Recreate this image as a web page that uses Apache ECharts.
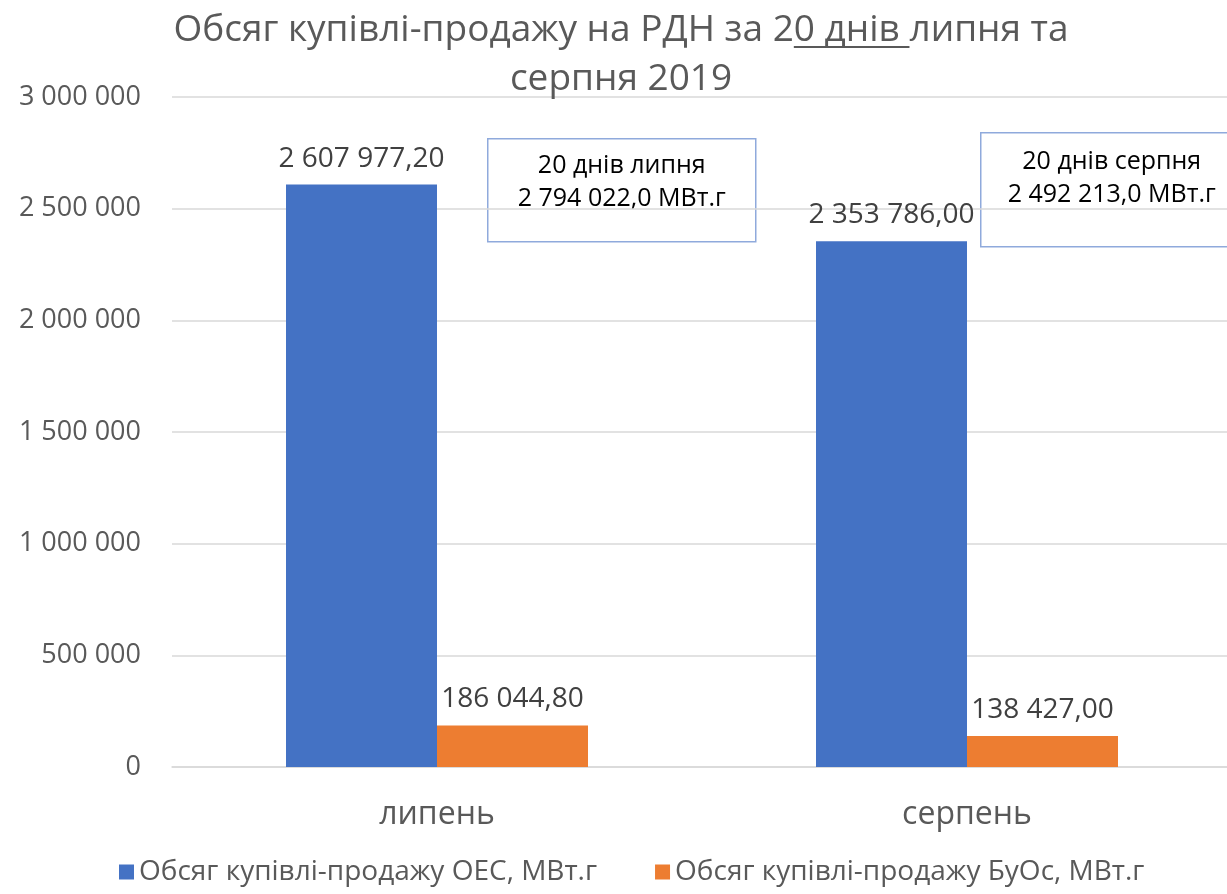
<!DOCTYPE html>
<html>
<head>
<meta charset="utf-8">
<script src="https://cdn.jsdelivr.net/npm/echarts@6/dist/echarts.min.js"></script>
<style>
html,body{margin:0;padding:0;background:#fff;overflow:hidden;}
#chart{width:1242px;height:894px;}
</style>
</head>
<body>
<div id="chart"></div>
<script>
var categories = ['липень', 'серпень'];
var seriesNames = ['Обсяг купівлі-продажу ОЕС, МВт.г', 'Обсяг купівлі-продажу БуОс, МВт.г'];
var oesValues = [2607977.20, 2353786.00];
var buosValues = [186044.80, 138427.00];
var noteLines = [
    ['20 днів липня', '2 794 022,0 МВт.г'],
    ['20 днів серпня', '2 492 213,0 МВт.г']
];

var FONT = '"Open Sans", "Noto Sans", sans-serif';
var TITLE_SIZE = 37;
var CHART_W = 1242;

function spaced(n, dec){
    var s = n.toFixed(dec).split('.');
    var intPart = s[0].replace(/\B(?=(\d{3})+(?!\d))/g, ' ');
    return dec ? intPart + ',' + s[1] : intPart;
}

var myChart = echarts.init(document.getElementById('chart'));

// рамки з підписами
function noteBox(lines, x, y, w, h, textY){
    return {
        type: 'group',
        left: x, top: y,
        children: [
            {type: 'rect', shape: {x: 0, y: 0, width: w, height: h},
             style: {fill: 'rgba(0,0,0,0)', stroke: '#8FAADC', lineWidth: 1.5}},
            {type: 'text', x: w / 2, y: textY,
             style: {text: lines.join('\n'), font: '25px ' + FONT, fill: '#000',
                     align: 'center', verticalAlign: 'middle', lineHeight: 33}}
        ]
    };
}

var labelStyle = {
    show: true, position: 'top', distance: 12, fontSize: 28, color: '#404040', fontFamily: FONT,
    formatter: function(p){ return spaced(p.value, 2); }
};

var option = {
    animation: false,
    backgroundColor: '#fff',
    textStyle: {fontFamily: FONT},
    title: {
        text: 'Обсяг купівлі-продажу на РДН за 20 днів липня та\nсерпня 2019',
        left: 'center',
        top: 1,
        textStyle: {fontSize: TITLE_SIZE, fontWeight: 'normal', color: '#595959', lineHeight: 49, fontFamily: FONT}
    },
    legend: {
        bottom: 3,
        left: 114,
        itemWidth: 15, itemHeight: 15,
        itemGap: 58,
        icon: 'rect',
        textStyle: {fontSize: 28, color: '#595959', fontFamily: FONT},
        data: seriesNames
    },
    grid: {left: 172, top: 97, bottom: 127, right: 10, containLabel: false},
    xAxis: {
        type: 'category',
        data: categories,
        axisLine: {show: true, lineStyle: {color: '#d9d9d9', width: 1.5}},
        axisTick: {show: false},
        axisLabel: {fontSize: 32, color: '#595959', margin: 32, fontFamily: FONT}
    },
    yAxis: {
        type: 'value',
        min: 0, max: 3000000, interval: 500000,
        axisLine: {show: false},
        axisTick: {show: false},
        splitLine: {lineStyle: {color: '#d9d9d9', width: 1.5}},
        axisLabel: {fontSize: 27, color: '#595959', margin: 31, fontFamily: FONT,
                    formatter: function(v){ return spaced(v, 0); }}
    },
    series: [
        {
            name: seriesNames[0], type: 'bar', data: oesValues,
            barWidth: 151, barGap: '0%',
            itemStyle: {color: '#4472C4'},
            label: labelStyle
        },
        {
            name: seriesNames[1], type: 'bar', data: buosValues,
            barWidth: 151, barGap: '0%',
            itemStyle: {color: '#ED7D31'},
            label: labelStyle
        }
    ],
    graphic: [
        noteBox(noteLines[0], 487, 138, 268, 103, 44),
        noteBox(noteLines[1], 980, 132, 262, 114, 46)
    ]
};

myChart.setOption(option);

// підкреслення "0 днів " у заголовку
(function(){
    var ctx = document.createElement('canvas').getContext('2d');
    ctx.font = TITLE_SIZE + 'px ' + FONT;
    var full = 'Обсяг купівлі-продажу на РДН за 20 днів липня та';
    var start = (CHART_W - ctx.measureText(full).width) / 2;
    var x0 = start + ctx.measureText('Обсяг купівлі-продажу на РДН за 2').width;
    var x1 = start + ctx.measureText('Обсяг купівлі-продажу на РДН за 20 днів ').width;
    myChart.setOption({graphic: option.graphic.concat([{
        type: 'line', shape: {x1: x0, y1: 47, x2: x1, y2: 47},
        style: {stroke: '#595959', lineWidth: 2}
    }])});
})();

window.onresize = function(){
    myChart.resize();
};
</script>
</body>
</html>
